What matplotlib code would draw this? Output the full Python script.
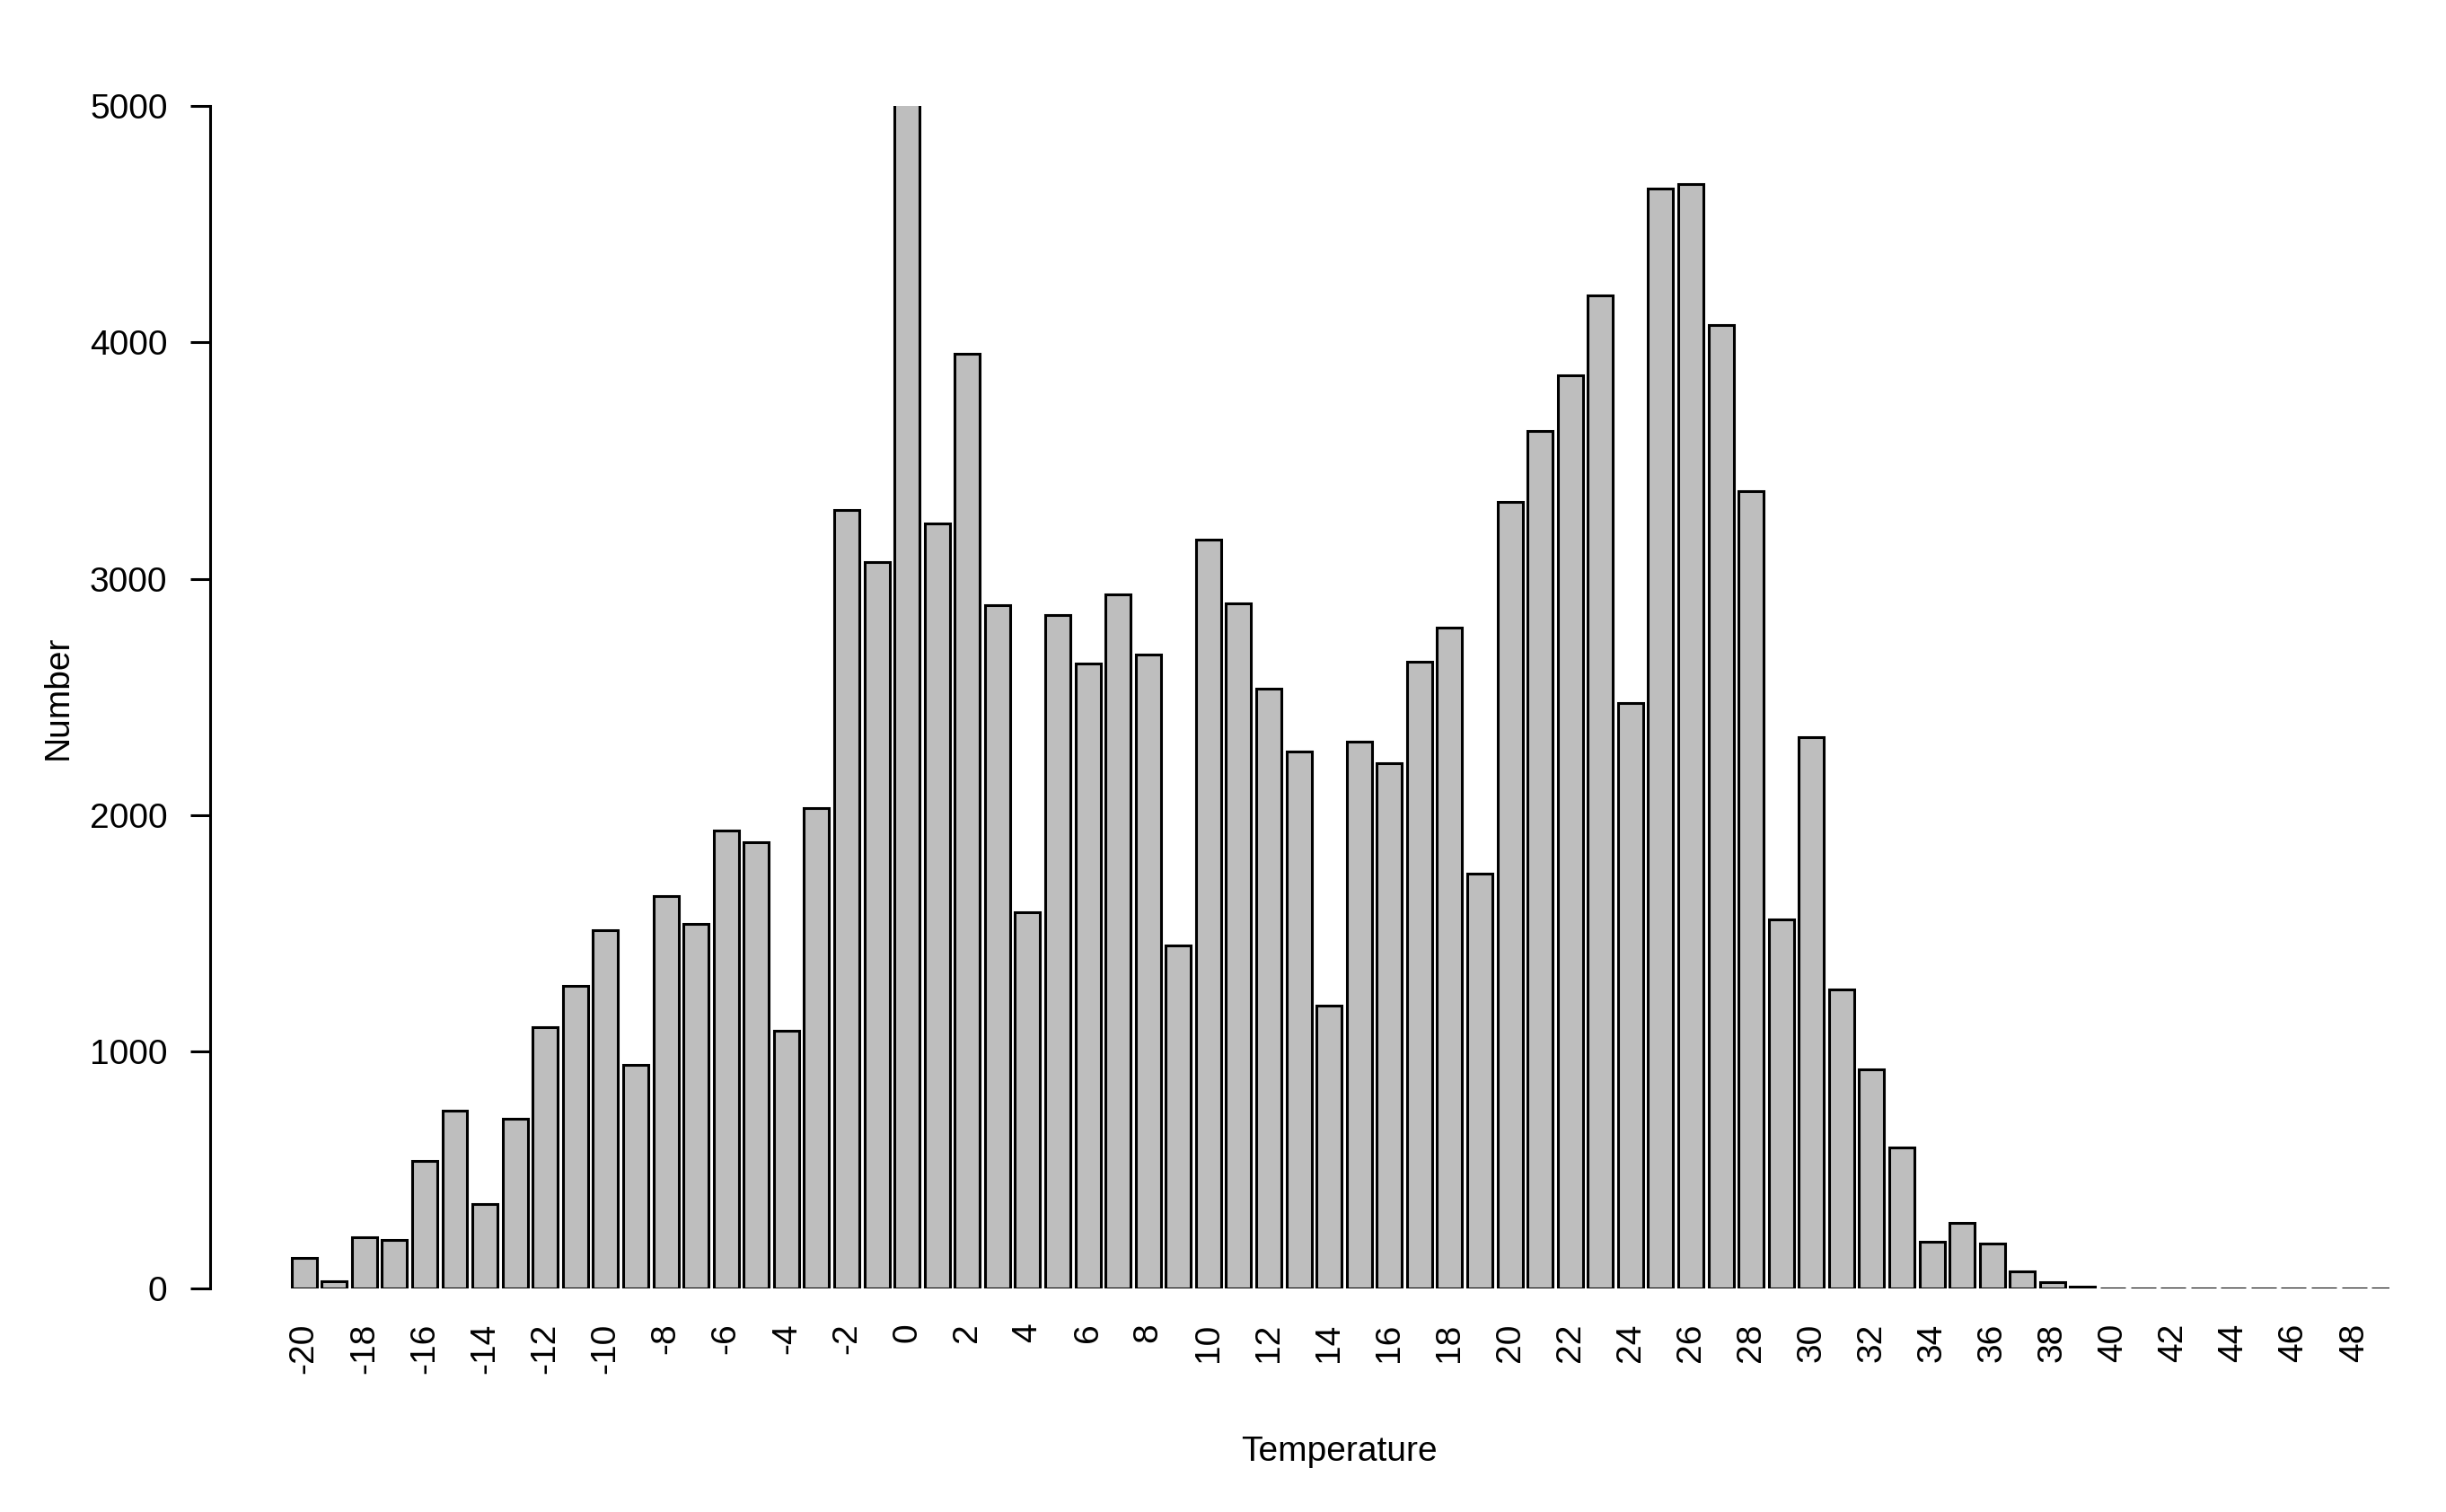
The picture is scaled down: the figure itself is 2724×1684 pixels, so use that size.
import matplotlib
matplotlib.use('Agg')
import matplotlib.pyplot as plt
import numpy as np

plt.rcParams['font.family'] = ['Liberation Sans', 'DejaVu Sans']

temps = list(range(-20, 50))
counts = [130, 30, 215, 205, 540, 750, 355, 715, 1105, 1280,
          1515, 945, 1660, 1540, 1935, 1885, 1090, 2030, 3290, 3070,
          5600, 3235, 3950, 2890, 1590, 2845, 2640, 2935, 2680, 1450,
          3165, 2895, 2535, 2270, 1195, 2310, 2220, 2650, 2795, 1755,
          3325, 3625, 3860, 4200, 2475, 4650, 4670, 4075, 3370, 1560,
          2330, 1265, 925, 595, 195, 275, 190, 70, 25, 8,
          0, 0, 0, 0, 0, 0, 0, 0, 0, 0]

fig = plt.figure(figsize=(27.24, 16.84), dpi=100)
ax = fig.add_axes([0.0858, 0.148, 0.891, 0.782])

x = 0.7 + 1.2 * np.arange(len(temps))
ax.bar(x, counts, width=1.0, color='#bebebe', edgecolor='black', linewidth=2.2)

ax.set_xlim(-3.05, 83.7)
ax.set_ylim(0, 5000)
for s in ['top', 'right', 'bottom']:
    ax.spines[s].set_visible(False)
ax.spines['left'].set_linewidth(2.2)

ax.set_yticks([0, 1000, 2000, 3000, 4000, 5000])
ax.tick_params(axis='y', labelsize=28, length=16, width=2.2, pad=18)
lab_idx = [i for i, t in enumerate(temps) if t % 2 == 0]
ax.set_xticks(x[lab_idx])
ax.set_xticklabels([str(temps[i]) for i in lab_idx], rotation=90, fontsize=28)
ax.tick_params(axis='x', length=0, pad=28)

ax.set_xlabel('Temperature', fontsize=28)
ax.xaxis.set_label_coords(0.518, -0.125)
ax.set_ylabel('Number', fontsize=28, labelpad=12)

fig.savefig('out.png', dpi=100)
